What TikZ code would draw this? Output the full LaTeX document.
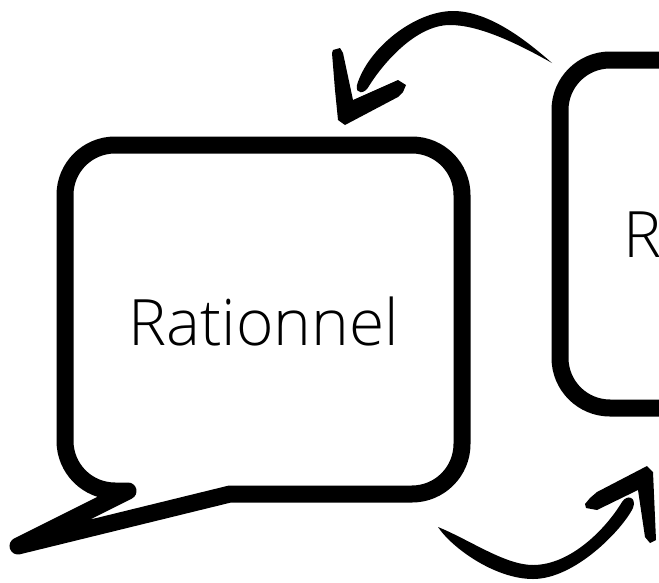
\documentclass[tikz,border=0pt]{standalone}
\usepackage{fontspec}
\setmainfont{Open Sans Light}
\tikzset{
  bubble/.style={draw=black,line width=17pt,line join=round,line cap=round,fill=white},
  brush/.style={fill=black,draw=none},
  label/.style={font=\fontsize{64}{68}\selectfont,inner sep=0pt,anchor=base west,text=black}
}
\begin{document}
\begin{tikzpicture}[x=1pt,y=-1pt]
\useasboundingbox (0,0) rectangle (659,582);
\clip (0,0) rectangle (659,582);
% left speech bubble
\draw[bubble] (230,494) -- (18,546) -- (128,491) -- (115,491)
  arc[start angle=90,end angle=180,radius=50] -- (65,195)
  arc[start angle=180,end angle=270,radius=50] -- (412,145)
  arc[start angle=270,end angle=360,radius=50] -- (462,444)
  arc[start angle=0,end angle=90,radius=50] -- cycle;
\node[label] (rat) at (128,345) {Rationnel};
% right bubble
\draw[bubble] (700,60) -- (610,60) arc[start angle=270,end angle=180,radius=50]
  -- (560,358) arc[start angle=180,end angle=90,radius=50] -- (700,408);
\node[label] (r) at (623,257) {R};
% upper arrow
\fill[brush] (552,63) .. controls (528,42) and (490,11) .. (453,11)
  .. controls (415,11) and (368,48) .. (357,85)
  .. controls (355,95) and (365,94) .. (369,86)
  .. controls (382,65) and (415,25) .. (450,25)
  .. controls (478,25) and (515,42) .. cycle;
\fill[brush] (332,53) -- (333,50) -- (340,48) -- (343,53) -- (353,100) -- (398,80) -- (406,85)
  -- (403,92) -- (398,97) -- (345,125) -- (338,120) -- (335,90) -- cycle;
% lower arrow
\fill[brush] (438,527) .. controls (452,548) and (495,579) .. (533,579)
  .. controls (575,579) and (622,530) .. (633,508)
  .. controls (637,497) and (627,494) .. (622,502)
  .. controls (605,530) and (570,565) .. (533,565)
  .. controls (505,565) and (470,540) .. cycle;
\fill[brush] (647,466) -- (653,472) -- (656,540) -- (650,543) -- (645,537) -- (638,490)
  -- (597,510) -- (586,508) -- (585,504) -- (590,498) -- (597,492) -- cycle;
\end{tikzpicture}
\end{document}
